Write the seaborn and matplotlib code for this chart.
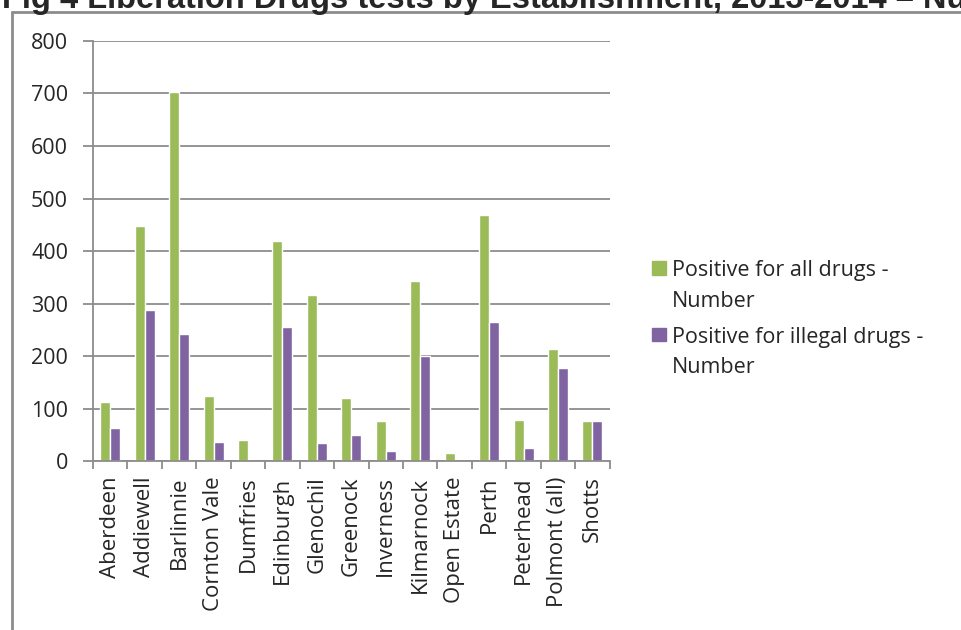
import numpy as np
import pandas as pd
import matplotlib
matplotlib.use("Agg")
import matplotlib.pyplot as plt
from matplotlib.patches import Rectangle
from matplotlib.legend_handler import HandlerPatch
import seaborn as sns

# data
establishments = ["Aberdeen", "Addiewell", "Barlinnie", "Cornton Vale", "Dumfries",
                  "Edinburgh", "Glenochil", "Greenock", "Inverness", "Kilmarnock",
                  "Open Estate", "Perth", "Peterhead", "Polmont (all)", "Shotts"]
all_drugs = [113, 448, 703, 125, 40, 419, 316, 121, 77, 343, 15, 468, 79, 213, 77]
illegal_drugs = [64, 287, 243, 37, 0, 255, 35, 50, 20, 201, 0, 265, 26, 177, 77]
series_names = ["Positive for all drugs -\nNumber", "Positive for illegal drugs -\nNumber"]
colors = ["#9BBB59", "#8064A2"]
title = "Fig 4 Liberation Drugs tests by Establishment, 2013-2014 \u2013 Number"

df = pd.DataFrame({
    "establishment": establishments * 2,
    "value": all_drugs + illegal_drugs,
    "series": [series_names[0]] * len(establishments) + [series_names[1]] * len(establishments),
})

sns.set_style("white")
plt.rcParams["font.family"] = ["Open Sans", "DejaVu Sans"]

fig = plt.figure(figsize=(9.62, 6.3), dpi=100)
ax = fig.add_axes([0.0967, 0.268, 0.537, 0.667])

sns.barplot(data=df, x="establishment", y="value", hue="series", palette=colors,
            width=0.58, gap=0, saturation=1, ax=ax, legend=False)

grey = "#8c8c8c"
ax.set_ylim(0, 800)
ax.set_yticks(np.arange(0, 801, 100))
ax.set_xlim(-0.5, len(establishments) - 0.5)
ax.yaxis.grid(True, color=grey, linewidth=1.3)
ax.set_axisbelow(True)
for s in ["top", "right"]:
    ax.spines[s].set_visible(False)
for s in ["left", "bottom"]:
    ax.spines[s].set_color(grey)
    ax.spines[s].set_linewidth(1.3)
ax.set_xlabel("")
ax.set_ylabel("")
ax.tick_params(axis="y", length=7, width=1.3, color=grey, labelsize=15.5, pad=11, direction="out", left=True)
ax.tick_params(axis="x", which="major", length=0, labelsize=16, labelrotation=90, pad=11)
ax.set_xticks(np.arange(-0.5, len(establishments)), minor=True)
ax.tick_params(axis="x", which="minor", length=6, width=1.3, color=grey, bottom=True, direction="out")
for lab in ax.get_xticklabels():
    lab.set_va("top")

# legend: square handle aligned with the first line of each label
def square(legend, orig_handle, xdescent, ydescent, width, height, fontsize):
    s = 0.62 * fontsize
    return Rectangle((width - s, 0.85 * fontsize + (height - s) / 2), s, s)

handles = [Rectangle((0, 0), 1, 1, color=c) for c in colors]
leg = fig.legend(handles, series_names, loc="upper left", bbox_to_anchor=(0.656, 0.618),
                 frameon=False, fontsize=15.5, handlelength=0.7, handletextpad=0.3,
                 labelspacing=0.7, handler_map={Rectangle: HandlerPatch(patch_func=square)})
for t in leg.get_texts():
    t.set_linespacing(1.6)

# outer frame and clipped title
fig.add_artist(plt.Line2D([12 / 962, 12 / 962], [0, 1 - 12 / 630], transform=fig.transFigure, color=grey, linewidth=2))
fig.add_artist(plt.Line2D([12 / 962, 1], [1 - 12 / 630, 1 - 12 / 630], transform=fig.transFigure, color=grey, linewidth=2))
fig.text(2 / 962, 1 - 8 / 630, title, fontsize=23.5, fontweight="bold",
         family=["Liberation Sans", "DejaVu Sans"], ha="left", va="baseline")

fig.savefig("out.png", dpi=100)
